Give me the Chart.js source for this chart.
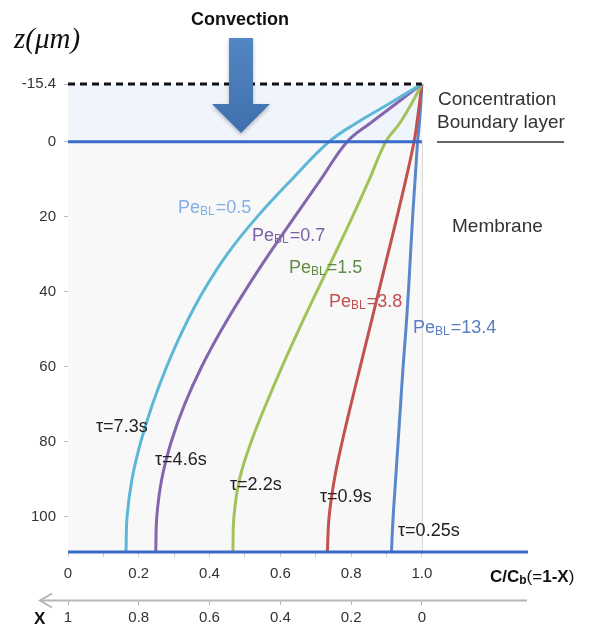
<!DOCTYPE html>
<html>
<head>
<meta charset="utf-8">
<script src="https://cdn.jsdelivr.net/npm/chart.js@4.4.1/dist/chart.umd.min.js"></script>
<style>
  html, body { margin: 0; padding: 0; background: #fff; }
  #wrap { width: 590px; height: 630px; }
</style>
</head>
<body>
<div id="wrap"><canvas id="profileChart" width="590" height="630"></canvas></div>
<script>
// depth z (um), negative = concentration boundary layer
var zDepth = [-15.4, -10, -5, 0, 10, 20, 30, 40, 50, 60, 70, 80, 90, 100, 109.5];
// C/Cb read at each depth, one list per Peclet number
var cPe05  = [1.0, 0.905, 0.815, 0.738, 0.633, 0.535, 0.45, 0.382, 0.326, 0.279, 0.239, 0.206, 0.181, 0.167, 0.164];
var cPe07  = [1.0, 0.925, 0.855, 0.789, 0.715, 0.641, 0.568, 0.499, 0.435, 0.378, 0.33, 0.292, 0.265, 0.251, 0.248];
var cPe15  = [1.0, 0.97, 0.938, 0.898, 0.852, 0.804, 0.754, 0.703, 0.653, 0.605, 0.56, 0.518, 0.485, 0.469, 0.466];
var cPe38  = [1.0, 0.993, 0.986, 0.978, 0.955, 0.93, 0.904, 0.878, 0.852, 0.826, 0.8, 0.775, 0.753, 0.738, 0.733];
var cPe134 = [1.0, 0.997, 0.993, 0.988, 0.981, 0.974, 0.968, 0.962, 0.955, 0.947, 0.94, 0.933, 0.926, 0.919, 0.914];

var peValues = ['0.5', '0.7', '1.5', '3.8', '13.4'];
var tauValues = ['7.3s', '4.6s', '2.2s', '0.9s', '0.25s'];

var yTicks = [-15.4, 0, 20, 40, 60, 80, 100];
var xTicks = [0, 0.1, 0.2, 0.3, 0.4, 0.5, 0.6, 0.7, 0.8, 0.9, 1.0];
var xTickLabels = ['0', '', '0.2', '', '0.4', '', '0.6', '', '0.8', '', '1.0'];
var x2Ticks = [0, 0.2, 0.4, 0.6, 0.8, 1.0];
var x2TickLabels = ['1', '0.8', '0.6', '0.4', '0.2', '0'];

var zTop = -15.4, zBottom = 109.5;

function toPoints(xs) {
    return xs.map(function (c, i) { return { x: c, y: zDepth[i] }; });
}

var curveColors = ['#5db7d6', '#8466ae', '#a3c25a', '#c2524e', '#5a86cc'];
var labelColors = ['#82b0e6', '#7c5fa6', '#5f8c45', '#c0504d', '#5b7ec2'];
var curves = [cPe05, cPe07, cPe15, cPe38, cPe134];

var datasets = curves.map(function (c, i) {
    return {
        label: 'Pe=' + peValues[i],
        data: toPoints(c),
        showLine: true,
        borderColor: curveColors[i],
        borderWidth: 3,
        pointRadius: 0,
        tension: 0.4,
        clip: false
    };
});

// structural lines: top of boundary layer, membrane surface, membrane bottom
datasets.unshift({
    data: [{ x: 0, y: zTop }, { x: 1.0, y: zTop }],
    showLine: true, borderColor: '#111', borderWidth: 3, borderDash: [7, 5],
    pointRadius: 0, clip: false
});
datasets.unshift({
    data: [{ x: 0, y: 0 }, { x: 1.0, y: 0 }],
    showLine: true, borderColor: '#3a6bc9', borderWidth: 3,
    pointRadius: 0, clip: false
});
datasets.unshift({
    data: [{ x: 0, y: zBottom }, { x: 1.3, y: zBottom }],
    showLine: true, borderColor: '#3b69c6', borderWidth: 3,
    pointRadius: 0, clip: false
});

var decor = {
    id: 'decor',
    beforeDatasetsDraw: function (chart) {
        var ctx = chart.ctx, xs = chart.scales.x, ys = chart.scales.y;
        var l = xs.getPixelForValue(0), r = xs.getPixelForValue(1.0);
        var t = ys.getPixelForValue(zTop), m = ys.getPixelForValue(0), b = ys.getPixelForValue(zBottom);
        ctx.save();
        ctx.fillStyle = '#f0f5fb';
        ctx.fillRect(l, t, r - l, m - t);
        ctx.fillStyle = '#f8f8f8';
        ctx.fillRect(l, m, r - l, b - m);
        ctx.strokeStyle = '#d4d4d4';
        ctx.lineWidth = 1;
        ctx.beginPath();
        ctx.moveTo(r + 0.5, m);
        ctx.lineTo(r + 0.5, b);
        ctx.stroke();
        ctx.restore();
    },
    afterDraw: function (chart) {
        var ctx = chart.ctx;
        ctx.save();

        // convection arrow
        var grad = ctx.createLinearGradient(0, 38, 0, 133);
        grad.addColorStop(0, '#5386c4');
        grad.addColorStop(1, '#3f70ad');
        ctx.fillStyle = grad;
        ctx.shadowColor = 'rgba(0,0,0,0.25)';
        ctx.shadowBlur = 4;
        ctx.shadowOffsetY = 2;
        ctx.beginPath();
        ctx.moveTo(229, 38);
        ctx.lineTo(253, 38);
        ctx.lineTo(253, 104);
        ctx.lineTo(270, 104);
        ctx.lineTo(241, 133);
        ctx.lineTo(212, 104);
        ctx.lineTo(229, 104);
        ctx.closePath();
        ctx.fill();
        ctx.shadowColor = 'transparent';

        ctx.textBaseline = 'middle';
        ctx.fillStyle = '#111';
        ctx.font = 'bold 18px "Liberation Sans", Arial, sans-serif';
        ctx.fillText('Convection', 191, 20);

        ctx.font = 'italic 29px "Liberation Serif", "DejaVu Serif", serif';
        ctx.fillText('z(\u03bcm)', 14, 40);

        ctx.fillStyle = '#333';
        ctx.font = '19px "Liberation Sans", Arial, sans-serif';
        ctx.fillText('Concentration', 438, 100);
        ctx.fillText('Boundary layer', 437, 123);
        ctx.fillText('Membrane', 452, 227);
        ctx.strokeStyle = '#333';
        ctx.lineWidth = 1.5;
        ctx.beginPath();
        ctx.moveTo(437, 142);
        ctx.lineTo(564, 142);
        ctx.stroke();

        // Pe labels
        var pePos = [[178, 208], [252, 236], [289, 268], [329, 302], [413, 328]];
        peValues.forEach(function (v, i) {
            var x = pePos[i][0], y = pePos[i][1];
            ctx.fillStyle = labelColors[i];
            ctx.font = '18px "Liberation Sans", Arial, sans-serif';
            ctx.fillText('Pe', x, y);
            x += ctx.measureText('Pe').width;
            ctx.font = '12px "Liberation Sans", Arial, sans-serif';
            ctx.fillText('BL', x, y + 4);
            x += ctx.measureText('BL').width + 1;
            ctx.font = '18px "Liberation Sans", Arial, sans-serif';
            ctx.fillText('=' + v, x, y);
        });

        // tau labels
        var tauPos = [[96, 427], [155, 460], [230, 485], [320, 497], [398, 531]];
        ctx.fillStyle = '#222';
        ctx.font = '18px "Liberation Sans", Arial, sans-serif';
        tauValues.forEach(function (v, i) {
            ctx.fillText('\u03c4=' + v, tauPos[i][0], tauPos[i][1]);
        });

        // X axis arrow (points to larger X)
        var ay = chart.scales.x2.top + 0.5;
        ctx.strokeStyle = '#b5b5b5';
        ctx.lineWidth = 2;
        ctx.beginPath();
        ctx.moveTo(40, ay);
        ctx.lineTo(527, ay);
        ctx.stroke();
        ctx.beginPath();
        ctx.moveTo(52, ay - 7);
        ctx.lineTo(40, ay);
        ctx.lineTo(52, ay + 7);
        ctx.stroke();

        // axis titles
        ctx.fillStyle = '#111';
        ctx.font = 'bold 17px "Liberation Sans", Arial, sans-serif';
        ctx.fillText('X', 34, 619);
        var tx = 490, ty = 577;
        ctx.fillText('C/C', tx, ty);
        tx += ctx.measureText('C/C').width;
        ctx.font = 'bold 12px "Liberation Sans", Arial, sans-serif';
        ctx.fillText('b', tx, ty + 4);
        tx += ctx.measureText('b').width;
        ctx.font = '17px "Liberation Sans", Arial, sans-serif';
        ctx.fillText('(=', tx, ty);
        tx += ctx.measureText('(=').width;
        ctx.font = 'bold 17px "Liberation Sans", Arial, sans-serif';
        ctx.fillText('1-X', tx, ty);
        tx += ctx.measureText('1-X').width;
        ctx.font = '17px "Liberation Sans", Arial, sans-serif';
        ctx.fillText(')', tx, ty);

        ctx.restore();
    }
};

var tickFont = { family: '"Liberation Sans", Arial, sans-serif', size: 15 };

var ctx = document.getElementById('profileChart').getContext('2d');
var chart = new Chart(ctx, {
    type: 'scatter',
    data: { datasets: datasets },
    options: {
        responsive: false,
        animation: false,
        layout: { padding: { top: 84, right: 62, left: 0, bottom: 0 } },
        plugins: { legend: { display: false }, tooltip: { enabled: false } },
        scales: {
            x: {
                type: 'linear', position: 'bottom', min: 0, max: 1.3,
                afterBuildTicks: function (s) { s.ticks = xTicks.map(function (v) { return { value: v }; }); },
                afterFit: function (s) { s.height = 48; },
                ticks: {
                    color: '#333', font: tickFont, padding: 8, maxRotation: 0, autoSkip: false,
                    callback: function (v, i) { return xTickLabels[i]; }
                },
                grid: { drawOnChartArea: false, tickLength: 5, color: '#c8c8c8' },
                border: { display: false }
            },
            x2: {
                type: 'linear', position: 'bottom', min: 0, max: 1.3,
                afterBuildTicks: function (s) { s.ticks = x2Ticks.map(function (v) { return { value: v }; }); },
                afterFit: function (s) { s.height = 30; },
                ticks: {
                    color: '#333', font: tickFont, padding: 4, maxRotation: 0, autoSkip: false,
                    callback: function (v, i) { return x2TickLabels[i]; }
                },
                grid: { drawOnChartArea: false, tickLength: 5, color: '#b5b5b5' },
                border: { display: false }
            },
            y: {
                type: 'linear', reverse: true, min: zTop, max: zBottom,
                afterBuildTicks: function (s) { s.ticks = yTicks.map(function (v) { return { value: v }; }); },
                afterFit: function (s) { s.width = 68; },
                ticks: {
                    color: '#333', font: tickFont, padding: 8, autoSkip: false,
                    callback: function (v) { return String(v); }
                },
                grid: { drawOnChartArea: false, tickLength: 4, color: '#bbb' },
                border: { color: '#c4c4c4', width: 1 }
            }
        }
    },
    plugins: [decor]
});
</script>
</body>
</html>
